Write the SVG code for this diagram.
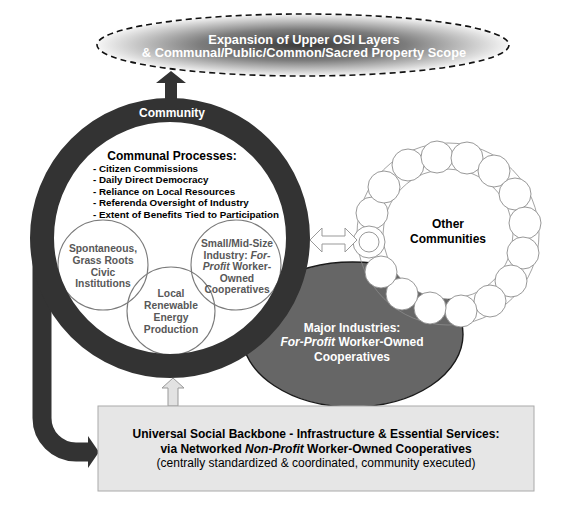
<svg xmlns="http://www.w3.org/2000/svg" width="584" height="508" viewBox="0 0 584 508">
<defs>
<radialGradient id="topg" cx="0.5" cy="0.5" r="0.5">
<stop offset="0" stop-color="#3a3a3a"/>
<stop offset="0.5" stop-color="#7c7c7c"/>
<stop offset="1" stop-color="#f6f6f6"/>
</radialGradient>
</defs>
<style>
text{font-family:"Liberation Sans",Arial,sans-serif;}
.b{font-weight:bold;}
.w{fill:#fff;}
.g{fill:#585858;font-weight:bold;font-size:10.3px;}
.sc{fill:#fff;stroke:#7a7a7a;stroke-width:1.1;}
.oc{fill:#fff;stroke:#8c8c8c;stroke-width:0.9;}
</style>
<rect width="584" height="508" fill="#fff"/>

<g id="connectors">
<path d="M42,262 V418 A34,34 0 0 0 76,452 H90" fill="none" stroke="#333" stroke-width="19"/>
<polygon points="88,436 99,452 88,468" fill="#333"/>
<polygon points="165,101 165,83 156,83 171,71 186,83 177,83 177,101" fill="#333"/>
</g>

<g id="top-scope">
<ellipse cx="303" cy="45" rx="206" ry="31" fill="url(#topg)" stroke="#111" stroke-width="1.6" stroke-dasharray="6,4"/>
<text class="b w" font-size="12.8" text-anchor="middle" x="304" y="43.5">Expansion of Upper OSI Layers</text>
<text class="b w" font-size="12.8" text-anchor="middle" x="304" y="57">&amp; Communal/Public/Common/Sacred Property Scope</text>
</g>

<g id="major-industries">
<ellipse cx="352.5" cy="334.5" rx="110.5" ry="72.5" fill="#666" stroke="#1a1a1a" stroke-width="1.4"/>
<text class="b w" font-size="12" text-anchor="middle" x="352" y="332">Major Industries:</text>
<text class="b w" font-size="12" text-anchor="middle" x="352" y="346"><tspan font-style="italic">For-Profit</tspan> Worker-Owned</text>
<text class="b w" font-size="12" text-anchor="middle" x="352" y="361">Cooperatives</text>
</g>

<g id="other-communities">
<circle cx="448" cy="234" r="91" fill="none" stroke="#8c8c8c" stroke-width="0.8"/>
<circle cx="448" cy="234" r="65" fill="#fff" stroke="#8c8c8c" stroke-width="0.8"/>
<circle class="oc" cx="372" cy="213" r="16"/>
<circle class="oc" cx="384" cy="187" r="16"/>
<circle class="oc" cx="408" cy="165" r="16"/>
<circle class="oc" cx="437" cy="157" r="16"/>
<circle class="oc" cx="467" cy="158" r="16"/>
<circle class="oc" cx="494" cy="171" r="16"/>
<circle class="oc" cx="515" cy="194" r="16"/>
<circle class="oc" cx="525" cy="223" r="16"/>
<circle class="oc" cx="523" cy="253" r="16"/>
<circle class="oc" cx="511" cy="281" r="16"/>
<circle class="oc" cx="490" cy="301" r="16"/>
<circle class="oc" cx="461" cy="311" r="16"/>
<circle class="oc" cx="430" cy="308" r="16"/>
<circle class="oc" cx="402" cy="294" r="16"/>
<circle class="oc" cx="381" cy="272" r="16"/>
<circle class="oc" cx="369" cy="242" r="16"/>
<circle class="oc" cx="369" cy="242" r="10"/>
<text class="b" font-size="12" text-anchor="middle" x="448" y="228">Other</text>
<text class="b" font-size="12" text-anchor="middle" x="448" y="242.5">Communities</text>
</g>

<g id="exchange-arrow">
<polygon points="310,240 322,228 322,236 345,236 345,228 357,240 345,252 345,244 322,244 322,252" fill="#fff" stroke="#999" stroke-width="1"/>
</g>

<g id="community">
<circle cx="170" cy="238" r="128" fill="#fff"/>
<text class="b" font-size="12" text-anchor="middle" x="172" y="159.5">Communal Processes:</text>
<text class="b" font-size="9.8">
<tspan x="93" y="171.5">- Citizen Commissions</tspan>
<tspan x="93" y="183">- Daily Direct Democracy</tspan>
<tspan x="93" y="194.5">- Reliance on Local Resources</tspan>
<tspan x="93" y="206">- Referenda Oversight of Industry</tspan>
<tspan x="93" y="217.5">- Extent of Benefits Tied to Participation</tspan>
</text>
<g id="civic">
<circle class="sc" cx="103" cy="265" r="45"/>
<text class="g" text-anchor="middle"><tspan x="103" y="252">Spontaneous,</tspan><tspan x="103" y="264">Grass Roots</tspan><tspan x="103" y="275.5">Civic</tspan><tspan x="103" y="287">Institutions</tspan></text>
</g>
<g id="energy">
<circle class="sc" cx="171" cy="311" r="44" style="fill:none"/>
<text class="g" text-anchor="middle"><tspan x="171" y="297">Local</tspan><tspan x="171" y="309">Renewable</tspan><tspan x="171" y="321">Energy</tspan><tspan x="171" y="333">Production</tspan></text>
</g>
<g id="small-industry">
<circle class="sc" cx="236" cy="265" r="45" style="fill:none"/>
<text class="g" text-anchor="middle"><tspan x="237" y="247">Small/Mid-Size</tspan><tspan x="237" y="258.5">Industry: <tspan font-style="italic">For-</tspan></tspan><tspan x="237" y="270"><tspan font-style="italic">Profit</tspan> Worker-</tspan><tspan x="237" y="281.5">Owned</tspan><tspan x="237" y="293">Cooperatives</tspan></text>
</g>
<circle cx="170" cy="238" r="128" fill="none" stroke="#333" stroke-width="24"/>
<text class="b w" font-size="12" text-anchor="middle" x="172" y="117">Community</text>
</g>

<g id="backbone-arrow">
<polygon points="168,406 168,388 162,388 173,378 184,388 178,388 178,406" fill="#e2e2e2" stroke="#999" stroke-width="1"/>
</g>

<g id="backbone">
<rect x="98" y="406" width="436" height="85" fill="#e6e6e6" stroke="#aaa" stroke-width="1"/>
<text class="b" font-size="12" text-anchor="middle" x="316" y="438">Universal Social Backbone - Infrastructure &amp; Essential Services:</text>
<text class="b" font-size="12" text-anchor="middle" x="316" y="452.5">via Networked <tspan font-style="italic">Non-Profit</tspan> Worker-Owned Cooperatives</text>
<text font-size="12" text-anchor="middle" x="316" y="467">(centrally standardized &amp; coordinated, community executed)</text>
</g>
</svg>
